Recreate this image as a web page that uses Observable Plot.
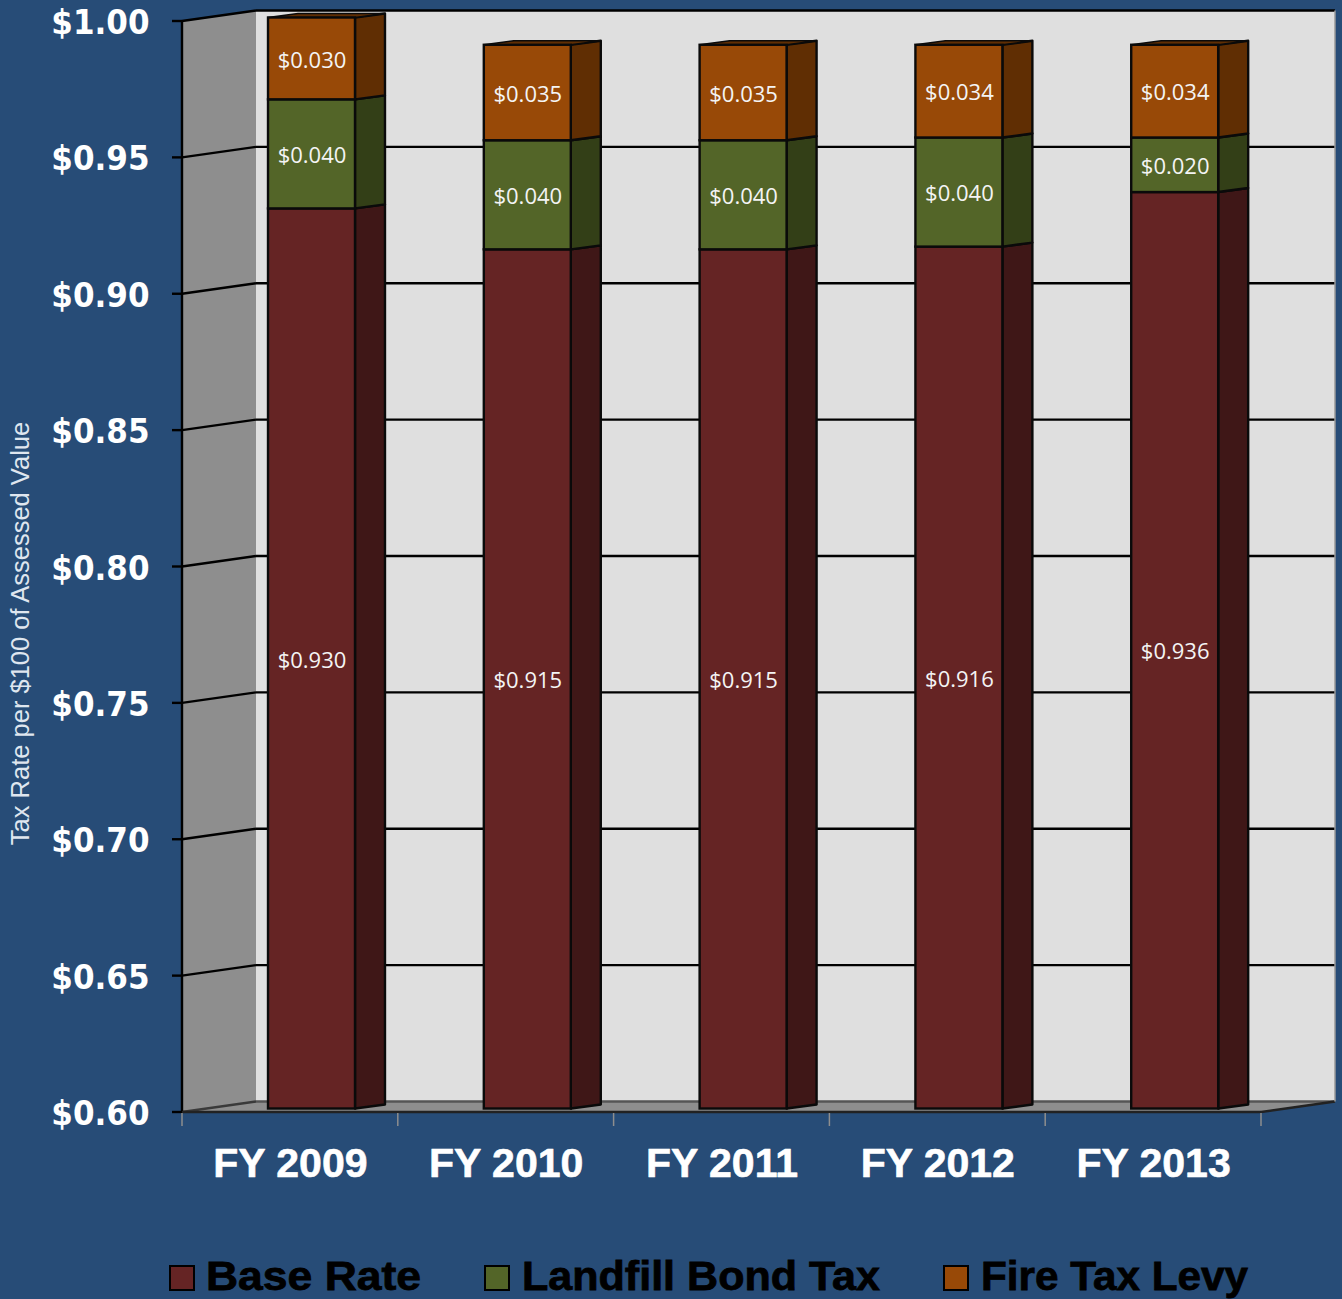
<!DOCTYPE html>
<html>
<head>
<meta charset="utf-8">
<script src="https://cdn.jsdelivr.net/npm/d3@7"></script>
<script src="https://cdn.jsdelivr.net/npm/@observablehq/plot@0.6"></script>
<style>
  html, body { margin: 0; padding: 0; background: #274c77; overflow: hidden; }
  #page { position: relative; width: 1342px; height: 1299px; }
  #legend { position: relative; width: 1342px; height: 49px; }
  .sw { position: absolute; top: 15px; width: 22px; height: 22px; border: 2px solid #000; box-sizing: content-box; }
  .lb { position: absolute; top: 3px; font: bold 41px/46px "Liberation Sans", sans-serif; color: #000; white-space: nowrap; -webkit-text-stroke: 0.8px #000; transform-origin: 0 50%; }
</style>
</head>
<body>
<div id="page"></div>
<script>
const categories = ["FY 2009", "FY 2010", "FY 2011", "FY 2012", "FY 2013"];
const baseRate = [0.930, 0.915, 0.915, 0.916, 0.936];
const landfillBondTax = [0.040, 0.040, 0.040, 0.040, 0.020];
const fireTaxLevy = [0.030, 0.035, 0.035, 0.034, 0.034];
const seriesNames = ["Base Rate", "Landfill Bond Tax", "Fire Tax Levy"];
const seriesValues = [baseRate, landfillBondTax, fireTaxLevy];
const frontColors = ["#652424", "#536528", "#984907"];
const sideColors = ["#3f1717", "#333f17", "#602e03"];
const yTicks = [0.60, 0.65, 0.70, 0.75, 0.80, 0.85, 0.90, 0.95, 1.00];
const yTitle = "Tax Rate per $100 of Assessed Value";

const rows = [];
categories.forEach((fy, i) => {
  let base = 0;
  seriesValues.forEach((vals, s) => {
    rows.push({fy, s, value: vals[i], y1: base, y2: base + vals[i]});
    base += vals[i];
  });
});

// 3D projection offsets (pixels)
const wallDX = 74, wallDY = -10.5;
const barInX = 21.6, barInY = -3.5;
const barDX = 30, barDY = -4;

function chartBox(index, scales, values, dimensions) {
  const {x, y} = scales;
  const g = d3.create("svg:g");
  const [xa, xb] = [dimensions.marginLeft, dimensions.width - dimensions.marginRight];
  const y0 = y(0.6), y1 = y(1);
  const poly = (pts, fill) =>
    g.append("polygon").attr("points", pts.map(p => p.join(",")).join(" ")).attr("fill", fill);
  const line = (a, b, stroke, w) =>
    g.append("line").attr("x1", a[0]).attr("y1", a[1]).attr("x2", b[0]).attr("y2", b[1])
      .attr("stroke", stroke).attr("stroke-width", w);
  // back wall, side wall, floor
  poly([[xa + wallDX, y1 + wallDY], [xb + wallDX, y1 + wallDY], [xb + wallDX, y0 + wallDY], [xa + wallDX, y0 + wallDY]], "#dfdfdf");
  poly([[xa, y1], [xa + wallDX, y1 + wallDY], [xa + wallDX, y0 + wallDY], [xa, y0]], "#8e8e8e");
  poly([[xa, y0], [xa + wallDX, y0 + wallDY], [xb + wallDX, y0 + wallDY], [xb, y0]], "#8e8e8e");
  // gridlines and y ticks
  for (const t of yTicks) {
    const bottom = t === 0.6;
    line([xa, y(t)], [xa + wallDX, y(t) + wallDY], bottom ? "#3a3a3a" : "#000", 2.4);
    line([xa + wallDX, y(t) + wallDY], [xb + wallDX, y(t) + wallDY], bottom ? "#555" : "#000", 2.4);
    line([xa - 10, y(t)], [xa, y(t)], "#000", 2.4);
  }
  line([xa, y1], [xa, y0], "#000", 2.4);
  line([xa, y0], [xb, y0], "#222", 2.4);
  line([xb, y0], [xb + wallDX, y0 + wallDY], "#222", 2.4);
  line([xb + wallDX, y1 + wallDY], [xb + wallDX, y0 + wallDY], "#9a9a9a", 1.5);
  // band boundary ticks
  const step = x.step();
  for (let i = 0; i <= categories.length; i++) {
    const tx = xa + i * step;
    line([tx, y0 + 1], [tx, y0 + 14], "#8e8e8e", 1.5);
  }
  return g.node();
}

function barDepth(index, scales) {
  const {x, y} = scales;
  const g = d3.create("svg:g");
  const bw = x.bandwidth();
  for (const r of rows) {
    const xr = x(r.fy) + barInX + bw;
    const ya = y(r.y2) + barInY, yb = y(Math.max(r.y1, 0.6)) + barInY;
    g.append("polygon")
      .attr("points", [[xr, ya], [xr + barDX, ya + barDY], [xr + barDX, yb + barDY], [xr, yb]].map(p => p.join(",")).join(" "))
      .attr("fill", sideColors[r.s]).attr("stroke", "#0a0a0a").attr("stroke-width", 2.4).attr("stroke-linejoin", "round");
    if (r.s === seriesValues.length - 1) {
      g.append("polygon")
        .attr("points", [[xr - bw, ya], [xr - bw + barDX, ya + barDY], [xr + barDX, ya + barDY], [xr, ya]].map(p => p.join(",")).join(" "))
        .attr("fill", sideColors[r.s]).attr("stroke", "#0a0a0a").attr("stroke-width", 1.5).attr("stroke-linejoin", "round");
    }
  }
  return g.node();
}

const chart = Plot.plot({
  width: 1342,
  height: 1250,
  marginLeft: 182,
  marginRight: 81,
  marginTop: 21,
  marginBottom: 138,
  style: {background: "transparent", overflow: "visible"},
  x: {type: "band", domain: categories, paddingInner: 0.597, paddingOuter: 0.2985, round: false, axis: null},
  y: {domain: [0.6, 1], axis: null},
  marks: [
    chartBox,
    barDepth,
    Plot.rect(rows, {
      x: "fy", y1: d => Math.max(d.y1, 0.6), y2: "y2",
      dx: barInX, dy: barInY,
      fill: d => frontColors[d.s],
      stroke: "#0a0a0a", strokeWidth: 2.4
    }),
    Plot.text(rows, {
      x: "fy", y: d => (Math.max(d.y1, 0.6) + d.y2) / 2,
      dx: barInX, dy: barInY + 1.6,
      text: d => d3.format("$.3f")(d.value),
      fill: "#f4f4f4", fontSize: 22, fontFamily: "Open Sans, sans-serif"
    }),
    Plot.axisY({
      ticks: yTicks, tickFormat: d3.format("$.2f"), label: null,
      anchor: "left", tickSize: 0, tickPadding: 33, dy: 1.5,
      fill: "#fff",
      fontSize: 34.5, fontWeight: "bold", fontFamily: "DejaVu Sans Condensed, DejaVu Sans, sans-serif"
    }),
    Plot.axisX({
      label: null, anchor: "bottom", tickSize: 0, tickPadding: 35,
      fill: "#fff", textStroke: "#fff", textStrokeWidth: 0.6,
      fontSize: 41, fontWeight: "bold", fontFamily: "Liberation Sans, sans-serif"
    }),
    Plot.text([yTitle], {
      frameAnchor: "left", dx: -162, dy: 66.5, rotate: -90, textAnchor: "middle", text: d => d,
      fill: "#dfe6ef", fontSize: 25.5, fontFamily: "Liberation Sans, sans-serif"
    })
  ]
});
document.getElementById("page").appendChild(chart);

// legend
const legend = document.createElement("div");
legend.id = "legend";
document.getElementById("page").appendChild(legend);
const swatchX = [169, 484, 943];
const labelX = [206, 522, 981];
const labelW = [215, 358, 267];
seriesNames.forEach((name, i) => {
  const sw = document.createElement("div");
  sw.className = "sw";
  sw.style.left = swatchX[i] + "px";
  sw.style.background = frontColors[i];
  legend.appendChild(sw);
  const lb = document.createElement("div");
  lb.className = "lb";
  lb.style.left = labelX[i] + "px";
  lb.textContent = name;
  legend.appendChild(lb);
  lb.style.transform = `scaleX(${labelW[i] / lb.getBoundingClientRect().width})`;
});
</script>
</body>
</html>
